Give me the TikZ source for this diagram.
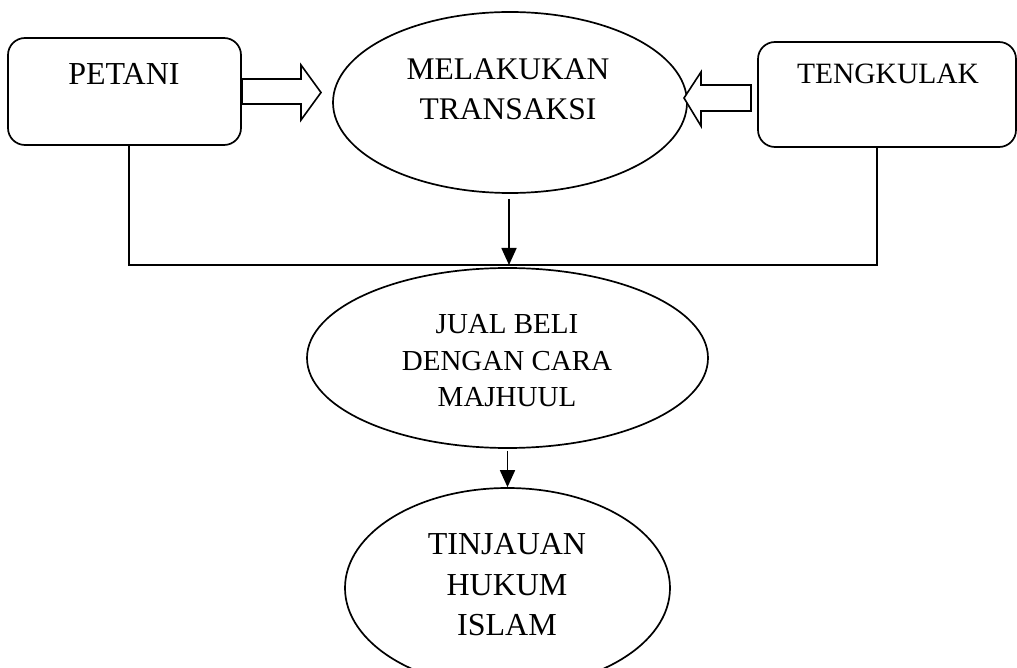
\documentclass[tikz,border=0pt]{standalone}
\usepackage{fontspec}
\setmainfont{Liberation Serif}
\usetikzlibrary{arrows.meta,shapes.geometric}
\begin{document}
\begin{tikzpicture}[x=1pt,y=-1pt,
  line width=1.7pt,
  box/.style={draw,rounded corners=17pt,inner sep=0pt,minimum width=233pt,minimum height=107pt},
  oval/.style={draw,ellipse,inner sep=0pt},
  lbl/.style={inner sep=0pt,align=center},
  hollow/.style={draw,fill=white,line width=1.6pt,line join=miter},
  flow/.style={-{Triangle[width=15pt,length=17pt]},line width=1.7pt}]
\useasboundingbox (0,0) rectangle (1017,668);
% shapes
\node[box] (petani) at (124.5,91.5) {};
\node[box,minimum width=258pt,minimum height=105pt] (tengkulak) at (887,94.5) {};
\node[oval,minimum width=354pt,minimum height=181pt] (transaksi) at (510,102.5) {};
\node[oval,minimum width=401pt,minimum height=180pt] (jualbeli) at (507.5,358) {};
\node[oval,minimum width=325pt,minimum height=200pt] (tinjauan) at (507.5,588) {};
% labels
\node[lbl,font=\fontsize{32}{40}\selectfont] (tpetani) at (124,74) {PETANI};
\node[lbl,font=\fontsize{29.5}{38}\selectfont] (ttengkulak) at (888,74) {TENGKULAK};
\node[lbl,font=\fontsize{31.5}{40}\selectfont] (ttransaksi) at (508,89) {MELAKUKAN\\TRANSAKSI};
\node[lbl,font=\fontsize{29}{36.5}\selectfont] (tjualbeli) at (507,361) {JUAL BELI\\DENGAN CARA\\MAJHUUL};
\node[lbl,font=\fontsize{32}{40.5}\selectfont] (ttinjauan) at (507,585) {TINJAUAN\\HUKUM\\ISLAM};
% hollow arrows
\draw[hollow] (242,79) -- (301,79) -- (301,65) -- (321,92.5) -- (301,120) -- (301,104) -- (242,104) -- cycle;
\draw[hollow] (751,85) -- (701,85) -- (701,72) -- (684,98) -- (701,126) -- (701,111) -- (751,111) -- cycle;
% connectors
\coordinate (cl) at (129,265);
\coordinate (cr) at (877,265);
\coordinate (cm) at (509,265);
\draw (petani.south -| cl) -- (cl) -- (cr) -- (tengkulak.south -| cr);
\draw[flow] ([yshift=-5pt]transaksi.south -| cm) -- (cm);
\draw[flow] ([yshift=-2pt]jualbeli.south) -- (tinjauan.north);
\end{tikzpicture}
\end{document}
